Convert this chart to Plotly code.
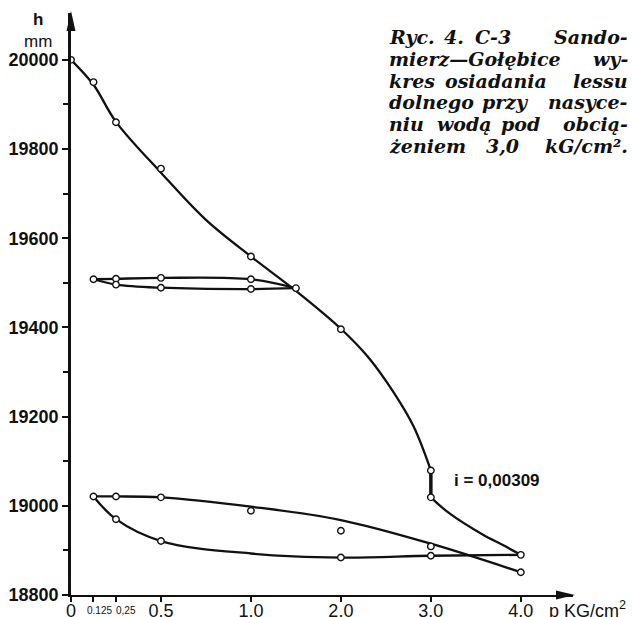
import plotly.graph_objects as go

# ---------------- data (p in kG/cm^2, h in mm) ----------------
# main loading curve (smoothed line as drawn)
load_p = [0, 0.125, 0.25, 0.5, 0.75, 1.0, 1.5, 2.0, 2.3, 2.59, 2.81, 3.0]
load_h = [20000, 19944, 19861, 19747, 19641, 19559, 19482, 19397, 19334, 19253, 19177, 19079]
# settlement on saturation at 3.0 kG/cm^2
wet_p = [3.0, 3.0]
wet_h = [19079, 19019]
# loading after saturation
post_p = [3.0, 3.2, 3.58, 3.8, 4.0]
post_h = [19019, 18984, 18935, 18912, 18890]
# first unloading / reloading loop
loop1_unload_p = [1.5, 1.0, 0.5, 0.25, 0.125]
loop1_unload_h = [19488, 19508, 19511, 19509, 19508]
loop1_reload_p = [0.125, 0.25, 0.5, 1.0, 1.5]
loop1_reload_h = [19508, 19496, 19489, 19486, 19488]
# second unloading / reloading loop
loop2_unload_p = [4.0, 3.0, 2.0, 1.0, 0.5, 0.25, 0.125]
loop2_unload_h = [18890, 18888, 18884, 18893, 18921, 18970, 19021]
loop2_reload_p = [0.125, 0.25, 0.5, 1.0, 2.0, 3.0, 4.0]
loop2_reload_h = [19021, 19021, 19019, 18998, 18968, 18915, 18851]
# measured points (circles)
meas_p = [0, 0.125, 0.25, 0.5, 1.0, 1.5, 2.0, 3.0, 3.0, 4.0,
          1.0, 0.5, 0.25, 0.125, 0.25, 0.5, 1.0,
          3.0, 2.0, 0.5, 0.25, 0.125, 0.25, 0.5, 1.0, 2.0, 3.0, 4.0]
meas_h = [20000, 19950, 19860, 19756, 19559, 19488, 19396, 19079, 19019, 18890,
          19508, 19511, 19509, 19508, 19496, 19489, 19486,
          18888, 18884, 18921, 18970, 19021, 19021, 19019, 18989, 18944, 18909, 18851]

x_ticks = [0, 0.5, 1.0, 2.0, 3.0, 4.0]
x_ticklabels = ["0", "0.5", "1.0", "2.0", "3.0", "4.0"]
x_small_ticks = [0.125, 0.25]
x_small_ticklabels = ["0.125", "0,25"]
y_ticks = [18800, 19000, 19200, 19400, 19600, 19800, 20000]
y_ticklabels = ["18800", "19000", "19200", "19400", "19600", "19800", "20000"]
y_minor = [18900, 19100, 19300, 19500, 19700, 19900]

caption_lines = [
    ["Ryc.", "4.", "C-3", "Sando-"],
    ["mierz—Gołębice", "wy-"],
    ["kres", "osiadania", "lessu"],
    ["dolnego", "przy", "nasyce-"],
    ["niu", "wodą", "pod", "obcią-"],
    ["żeniem", "3,0", "kG/cm²."],
]
collapse_label = "i = 0,00309"

# ---------------- layout helpers ----------------
W, H = 633, 617
L, R, T, B = 71, 60, 13, 22
PW, PH = W - L - R, H - T - B


def fx(px):
    return (px - L) / PW


def fy(py):
    return (H - B - py) / PH


def pos(p):
    # the original drawing uses a doubled scale between 0 and 1 kG/cm^2
    return 2 * p if p <= 1 else p + 1


def P(arr):
    return [pos(v) for v in arr]


BLACK = "#111111"
fig = go.Figure()

line_style = dict(color=BLACK, width=2.3, shape="spline", smoothing=1.0)
for xs, ys in [(load_p, load_h), (post_p, post_h),
               (loop1_unload_p, loop1_unload_h), (loop1_reload_p, loop1_reload_h),
               (loop2_unload_p, loop2_unload_h), (loop2_reload_p, loop2_reload_h)]:
    fig.add_trace(go.Scatter(x=P(xs), y=ys, mode="lines", line=line_style,
                             hoverinfo="skip", showlegend=False))
fig.add_trace(go.Scatter(x=P(wet_p), y=wet_h, mode="lines",
                         line=dict(color=BLACK, width=3.5), showlegend=False))
fig.add_trace(go.Scatter(x=P(meas_p), y=meas_h, mode="markers",
                         marker=dict(symbol="circle", size=6.5, color="white",
                                     line=dict(color=BLACK, width=1.4)),
                         showlegend=False))

tick_font = dict(family="Liberation Sans, Arial, sans-serif", size=18, color=BLACK)

fig.update_xaxes(range=[0, 5.58], showgrid=False, zeroline=False, showline=True,
                 linecolor=BLACK, linewidth=2, ticks="outside", ticklen=5,
                 tickwidth=1.5, tickcolor=BLACK, tickmode="array",
                 tickvals=P(x_ticks), ticktext=x_ticklabels, tickfont=tick_font,
                 ticklabelstandoff=-7,
                 minor=dict(tickmode="array", tickvals=P(x_small_ticks), ticks="outside",
                            ticklen=5, tickwidth=1.5, tickcolor=BLACK),
                 automargin=False, fixedrange=True)
fig.update_yaxes(range=[18800, 20105], showgrid=False, zeroline=False, showline=True,
                 linecolor=BLACK, linewidth=2.5, ticks="outside", ticklen=6,
                 tickwidth=1.5, tickcolor=BLACK, tickmode="array",
                 tickvals=y_ticks, ticktext=y_ticklabels,
                 tickfont=dict(tick_font, weight="bold"),
                 minor=dict(tickmode="array", tickvals=y_minor, ticks="outside",
                            ticklen=5, tickwidth=1.5, tickcolor=BLACK),
                 automargin=False, fixedrange=True)

shapes = []
# axis arrowheads
shapes.append(dict(type="path", xref="paper", yref="paper", line=dict(width=0),
                   fillcolor=BLACK,
                   path=f"M{fx(556)},{fy(590.5)} L{fx(575)},{fy(595)} L{fx(556)},{fy(599.5)} Z"))
shapes.append(dict(type="path", xref="paper", yref="paper", line=dict(width=0),
                   fillcolor=BLACK,
                   path=f"M{fx(66.5)},{fy(31)} L{fx(71)},{fy(11)} L{fx(75.5)},{fy(31)} Z"))

annotations = []
# small, crowded tick labels of the stretched low-pressure part
for v, t, sh in zip(x_small_ticks, x_small_ticklabels, [6, 10]):
    annotations.append(dict(text=t, xref="x", yref="paper", x=pos(v), y=fy(610),
                            xshift=sh, xanchor="center", yanchor="middle",
                            showarrow=False, font=dict(tick_font, size=10)))
annotations.append(dict(text="<b>h</b><br>mm", xref="paper", yref="paper",
                        x=fx(38), y=fy(30), xanchor="center", yanchor="middle",
                        showarrow=False, font=dict(tick_font, size=17)))
annotations.append(dict(text="p KG/cm<sup>2</sup>", xref="paper", yref="paper",
                        x=fx(547), y=fy(609), xanchor="left", yanchor="middle",
                        showarrow=False, font=dict(tick_font, size=18)))
annotations.append(dict(text=collapse_label, xref="paper", yref="paper",
                        x=fx(452), y=fy(480.5), xanchor="left", yanchor="middle",
                        showarrow=False, font=dict(tick_font, size=17, weight="bold")))

# caption, justified word by word
cap_font = dict(family="DejaVu Serif", size=19, color=BLACK, style="italic",
                weight="bold")
word_x = [
    [(387, "left"), (453.5, "center"), (493, "center"), (630, "right")],
    [(387, "left"), (630, "right")],
    [(387, "left"), (495.5, "center"), (630, "right")],
    [(387, "left"), (505, "center"), (630, "right")],
    [(387, "left"), (464, "center"), (520, "center"), (630, "right")],
    [(387, "left"), (502, "center"), (630, "right")],
]
for i, words in enumerate(caption_lines):
    baseline = 43 + 21.8 * i
    for w, (px, anc) in zip(words, word_x[i]):
        annotations.append(dict(text=w, xref="paper", yref="paper", x=fx(px),
                                y=fy(baseline - 6), xanchor=anc, yanchor="middle",
                                showarrow=False, font=cap_font))

fig.update_layout(width=W, height=H, margin=dict(l=L, r=R, t=T, b=B, pad=0),
                  paper_bgcolor="white", plot_bgcolor="white",
                  shapes=shapes, annotations=annotations, showlegend=False)

fig.write_html("out.html", config={"displayModeBar": False},
               post_script="document.body.style.margin='0';")
